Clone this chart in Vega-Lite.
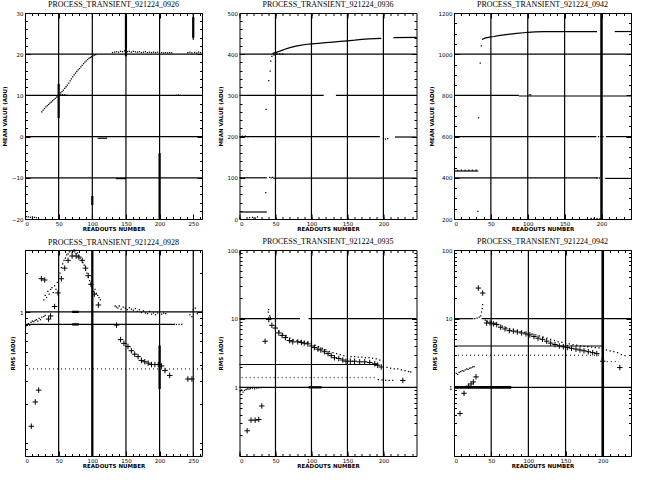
{
 "$schema": "https://vega.github.io/schema/vega-lite/v6.json",
 "padding": {"left": 1, "top": 0, "right": 0, "bottom": 0},
 "background": "white",
 "columns": 3,
 "spacing": {"row": 31, "column": 37.5},
 "bounds": "flush",
 "config": {
  "view": {"stroke": "black", "strokeWidth": 1},
  "axis": {"domain": false, "grid": false, "labelFont": "DejaVu Sans", "labelFontSize": 5.5, "labelColor": "black", "tickColor": "black", "tickWidth": 1, "titleFont": "DejaVu Sans", "titleFontSize": 5.5, "titleFontWeight": "bold", "titleColor": "black"},
  "title": {"font": "Liberation Sans Narrow", "fontSize": 8, "fontWeight": "normal", "color": "black", "offset": 2, "anchor": "middle"}
 },
 "datasets": {
  "p1": [
   {"t":"seg","x":0,"x2":263,"y":20,"y2":20},{"t":"seg","x":0,"x2":263,"y":10,"y2":10},{"t":"seg","x":0,"x2":263,"y":0,"y2":0},{"t":"seg","x":0,"x2":263,"y":-10,"y2":-10},
   {"t":"seg","x":50,"x2":50,"y":-20,"y2":30},{"t":"seg","x":100,"x2":100,"y":-20,"y2":30},{"t":"seg","x":150,"x2":150,"y":-20,"y2":30},{"t":"seg","x":200,"x2":200,"y":-20,"y2":30},{"t":"seg","x":250,"x2":250,"y":23.5,"y2":30},
   {"t":"thick","x":150,"x2":150,"y":19.5,"y2":30},{"t":"thick","x":50,"x2":50,"y":4.5,"y2":12.8},{"t":"thick","x":200,"x2":200,"y":-20,"y2":-4},{"t":"thick","x":100,"x2":100,"y":-16.6,"y2":-14.4},{"t":"thick","x":250,"x2":250,"y":24,"y2":29},
   {"t":"seg","x":108,"x2":122,"y":-0.4,"y2":-0.4},{"t":"seg","x":135,"x2":150,"y":-10.2,"y2":-10.2},
   {"t":"dot","x":25,"y":6.0},{"t":"dot","x":27,"y":6.4},{"t":"dot","x":29,"y":6.8},{"t":"dot","x":31,"y":7.2},{"t":"dot","x":33,"y":7.5},{"t":"dot","x":35,"y":7.8},{"t":"dot","x":37,"y":8.1},{"t":"dot","x":39,"y":8.4},{"t":"dot","x":41,"y":8.7},{"t":"dot","x":43,"y":9.0},{"t":"dot","x":45,"y":9.3},{"t":"dot","x":47,"y":9.6},{"t":"dot","x":49,"y":9.9},{"t":"dot","x":51,"y":10.2},{"t":"dot","x":53,"y":10.6},{"t":"dot","x":55,"y":10.9},{"t":"dot","x":57,"y":11.3},{"t":"dot","x":59,"y":11.7},{"t":"dot","x":61,"y":12.1},{"t":"dot","x":63,"y":12.5},{"t":"dot","x":65,"y":13.0},{"t":"dot","x":67,"y":13.5},{"t":"dot","x":69,"y":14.0},{"t":"dot","x":71,"y":14.5},{"t":"dot","x":73,"y":15.0},{"t":"dot","x":75,"y":15.4},{"t":"dot","x":77,"y":15.8},{"t":"dot","x":79,"y":16.2},{"t":"dot","x":81,"y":16.5},{"t":"dot","x":83,"y":16.9},{"t":"dot","x":85,"y":17.3},{"t":"dot","x":87,"y":17.7},{"t":"dot","x":89,"y":18.1},{"t":"dot","x":91,"y":18.4},{"t":"dot","x":93,"y":18.7},{"t":"dot","x":95,"y":19.0},{"t":"dot","x":97,"y":19.2},{"t":"dot","x":99,"y":19.4},{"t":"dot","x":101,"y":19.6},{"t":"dot","x":103,"y":19.8},{"t":"dot","x":105,"y":19.9},
   {"t":"dot","x":130,"y":20.4},{"t":"dot","x":133,"y":20.5},{"t":"dot","x":136,"y":20.6},{"t":"dot","x":139,"y":20.5},{"t":"dot","x":142,"y":20.7},{"t":"dot","x":145,"y":20.6},{"t":"dot","x":148,"y":20.8},{"t":"dot","x":152,"y":20.6},{"t":"dot","x":155,"y":20.7},{"t":"dot","x":158,"y":20.5},{"t":"dot","x":161,"y":20.7},{"t":"dot","x":164,"y":20.6},{"t":"dot","x":167,"y":20.5},{"t":"dot","x":170,"y":20.6},{"t":"dot","x":173,"y":20.4},{"t":"dot","x":176,"y":20.5},{"t":"dot","x":179,"y":20.6},{"t":"dot","x":182,"y":20.4},{"t":"dot","x":185,"y":20.5},{"t":"dot","x":188,"y":20.4},{"t":"dot","x":191,"y":20.5},{"t":"dot","x":194,"y":20.4},{"t":"dot","x":197,"y":20.5},{"t":"dot","x":203,"y":20.4},{"t":"dot","x":206,"y":20.3},{"t":"dot","x":209,"y":20.4},{"t":"dot","x":212,"y":20.3},{"t":"dot","x":215,"y":20.4},{"t":"dot","x":218,"y":20.3},{"t":"dot","x":242,"y":20.4},{"t":"dot","x":245,"y":20.5},{"t":"dot","x":248,"y":20.3},{"t":"dot","x":252,"y":20.4},{"t":"dot","x":255,"y":20.3},{"t":"dot","x":258,"y":20.5},{"t":"dot","x":261,"y":20.4},
   {"t":"dot","x":53,"y":10.1},{"t":"dot","x":56,"y":10.2},{"t":"dot","x":59,"y":10.1},{"t":"dot","x":62,"y":10.0},{"t":"dot","x":225,"y":10.0},{"t":"dot","x":228,"y":10.1},{"t":"dot","x":231,"y":10.0},
   {"t":"dot","x":2,"y":-19.4},{"t":"dot","x":5,"y":-19.5},{"t":"dot","x":8,"y":-19.6},{"t":"dot","x":11,"y":-19.5},{"t":"dot","x":14,"y":-19.6},{"t":"dot","x":17,"y":-19.7}
  ],
  "p2": [
   {"t":"seg","x":0,"x2":246,"y":400,"y2":400},{"t":"seg","x":0,"x2":117,"y":300,"y2":300},{"t":"seg","x":134,"x2":246,"y":300,"y2":300},{"t":"seg","x":0,"x2":195,"y":200,"y2":200},{"t":"seg","x":216,"x2":246,"y":199,"y2":199},{"t":"seg","x":0,"x2":38,"y":100,"y2":100},{"t":"seg","x":47,"x2":246,"y":99,"y2":99},{"t":"seg","x":0,"x2":38,"y":17,"y2":17},
   {"t":"seg","x":50,"x2":50,"y":0,"y2":500},{"t":"seg","x":100,"x2":100,"y":0,"y2":500},{"t":"seg","x":150,"x2":150,"y":0,"y2":500},{"t":"seg","x":200,"x2":200,"y":0,"y2":500},
   {"t":"ln","g":1,"x":46,"y":402},{"t":"ln","g":1,"x":50,"y":404},{"t":"ln","g":1,"x":56,"y":407.5},{"t":"ln","g":1,"x":63,"y":412},{"t":"ln","g":1,"x":70,"y":416},{"t":"ln","g":1,"x":77,"y":419},{"t":"ln","g":1,"x":84,"y":421.5},{"t":"ln","g":1,"x":92,"y":423.5},{"t":"ln","g":1,"x":100,"y":425},{"t":"ln","g":1,"x":110,"y":426.5},{"t":"ln","g":1,"x":120,"y":428},{"t":"ln","g":1,"x":130,"y":429.5},{"t":"ln","g":1,"x":140,"y":431},{"t":"ln","g":1,"x":150,"y":432.5},{"t":"ln","g":1,"x":160,"y":434},{"t":"ln","g":1,"x":170,"y":436},{"t":"ln","g":1,"x":180,"y":437},{"t":"ln","g":1,"x":197,"y":438.5},
   {"t":"ln","g":2,"x":214,"y":440},{"t":"ln","g":2,"x":246,"y":441},
   {"t":"dot","x":36.5,"y":64},{"t":"dot","x":37,"y":266},{"t":"dot","x":40.7,"y":336},{"t":"dot","x":42.6,"y":359},{"t":"dot","x":43.5,"y":383},{"t":"dot","x":45,"y":395},{"t":"dot","x":48,"y":398},{"t":"dot","x":52,"y":401},{"t":"dot","x":56,"y":401},{"t":"dot","x":60,"y":400},
   {"t":"dot","x":42,"y":101},{"t":"dot","x":44,"y":100},{"t":"dot","x":46,"y":101},
   {"t":"dot","x":200,"y":196},{"t":"dot","x":203,"y":194},{"t":"dot","x":206,"y":195},
   {"t":"dot","x":14,"y":3},{"t":"dot","x":18,"y":4},{"t":"dot","x":22,"y":2},{"t":"dot","x":25,"y":5},{"t":"dot","x":4,"y":201},{"t":"dot","x":8,"y":201},{"t":"dot","x":12,"y":200}
  ],
  "p3": [
   {"t":"seg","x":0,"x2":240,"y":1000,"y2":1000},{"t":"seg","x":0,"x2":88,"y":800,"y2":800},{"t":"seg","x":88,"x2":240,"y":797,"y2":797},{"t":"seg","x":0,"x2":193,"y":600,"y2":600},{"t":"seg","x":206,"x2":240,"y":600,"y2":600},{"t":"seg","x":0,"x2":195,"y":400,"y2":400},{"t":"seg","x":205,"x2":240,"y":397,"y2":397},{"t":"seg","x":0,"x2":33,"y":433,"y2":433},
   {"t":"seg","x":50,"x2":50,"y":200,"y2":1200},{"t":"seg","x":100,"x2":100,"y":200,"y2":1200},{"t":"seg","x":150,"x2":150,"y":200,"y2":1200},
   {"t":"thick","x":200,"x2":200,"y":200,"y2":1200},
   {"t":"ln","g":1,"x":38,"y":1071},{"t":"ln","g":1,"x":42,"y":1078},{"t":"ln","g":1,"x":48,"y":1083},{"t":"ln","g":1,"x":54,"y":1086},{"t":"ln","g":1,"x":60,"y":1090},{"t":"ln","g":1,"x":68,"y":1094},{"t":"ln","g":1,"x":76,"y":1097},{"t":"ln","g":1,"x":85,"y":1101},{"t":"ln","g":1,"x":94,"y":1104},{"t":"ln","g":1,"x":100,"y":1106},{"t":"ln","g":1,"x":110,"y":1108},{"t":"ln","g":1,"x":122,"y":1110},{"t":"ln","g":1,"x":194,"y":1110},
   {"t":"ln","g":2,"x":218,"y":1110},{"t":"ln","g":2,"x":240,"y":1110},
   {"t":"dot","x":37,"y":1040},{"t":"dot","x":35.6,"y":957},{"t":"dot","x":33.3,"y":691},{"t":"dot","x":32.4,"y":237},
   {"t":"dot","x":196,"y":600},{"t":"dot","x":199,"y":601},{"t":"dot","x":202,"y":600},{"t":"dot","x":194,"y":398},{"t":"dot","x":197,"y":399},
   {"t":"dot","x":186,"y":203},{"t":"dot","x":190,"y":203},{"t":"dot","x":194,"y":202},{"t":"dot","x":198,"y":202},
   {"t":"dot","x":5,"y":436},{"t":"dot","x":10,"y":437},{"t":"dot","x":15,"y":436},{"t":"dot","x":20,"y":437},{"t":"dot","x":25,"y":437},{"t":"dot","x":30,"y":437},{"t":"dot","x":102,"y":803},{"t":"dot","x":104,"y":803}
  ],
  "p4": [
   {"t":"seg","x":0,"x2":263,"y":1.01,"y2":1.01},{"t":"seg","x":0,"x2":223,"y":0.81,"y2":0.81},
   {"t":"seg","x":50,"x2":50,"y":0.08,"y2":3},{"t":"seg","x":150,"x2":150,"y":0.08,"y2":3},{"t":"seg","x":200,"x2":200,"y":0.08,"y2":3},{"t":"seg","x":250,"x2":250,"y":0.08,"y2":3},
   {"t":"thick","x":100,"x2":100,"y":0.08,"y2":3},{"t":"thick","x":200,"x2":200,"y":0.26,"y2":0.56},{"t":"thick","x":70,"x2":80,"y":1.01,"y2":1.01},{"t":"thick","x":70,"x2":80,"y":0.81,"y2":0.81},
   {"t":"dash","x":0,"x2":263,"y":0.37,"y2":0.37},
   {"t":"dot","x":1,"y":0.78},{"t":"dot","x":3,"y":0.8},{"t":"dot","x":5,"y":0.82},{"t":"dot","x":7,"y":0.8},{"t":"dot","x":9,"y":0.84},{"t":"dot","x":11,"y":0.86},{"t":"dot","x":13,"y":0.85},{"t":"dot","x":15,"y":0.87},{"t":"dot","x":17,"y":0.88},{"t":"dot","x":19,"y":0.86},{"t":"dot","x":21,"y":0.9},{"t":"dot","x":23,"y":0.88},{"t":"dot","x":25,"y":0.92},{"t":"dot","x":28,"y":0.93},{"t":"dot","x":30,"y":0.95},
   {"t":"dot","x":28,"y":1.25},{"t":"dot","x":30,"y":1.35},{"t":"dot","x":32,"y":1.3},{"t":"dot","x":34,"y":1.45},{"t":"dot","x":36,"y":1.38},{"t":"dot","x":38,"y":1.5},{"t":"dot","x":40,"y":1.55},{"t":"dot","x":42,"y":1.42},{"t":"dot","x":44,"y":1.6},{"t":"dot","x":46,"y":1.5},{"t":"dot","x":48,"y":1.7},{"t":"dot","x":50,"y":1.9},{"t":"dot","x":52,"y":2.0},{"t":"dot","x":54,"y":2.2},{"t":"dot","x":56,"y":2.35},{"t":"dot","x":58,"y":2.5},{"t":"dot","x":60,"y":2.6},{"t":"dot","x":62,"y":2.75},{"t":"dot","x":64,"y":2.8},{"t":"dot","x":66,"y":2.9},{"t":"dot","x":68,"y":2.95},{"t":"dot","x":70,"y":2.85},{"t":"dot","x":72,"y":2.95},{"t":"dot","x":74,"y":2.9},{"t":"dot","x":76,"y":2.8},{"t":"dot","x":78,"y":2.85},{"t":"dot","x":80,"y":2.7},{"t":"dot","x":82,"y":2.6},{"t":"dot","x":84,"y":2.5},{"t":"dot","x":86,"y":2.4},{"t":"dot","x":88,"y":2.3},{"t":"dot","x":90,"y":2.1},{"t":"dot","x":92,"y":2.0},{"t":"dot","x":94,"y":1.85},{"t":"dot","x":96,"y":1.75},{"t":"dot","x":98,"y":1.65},{"t":"dot","x":102,"y":1.45},{"t":"dot","x":104,"y":1.5},{"t":"dot","x":106,"y":1.4},{"t":"dot","x":108,"y":1.35},{"t":"dot","x":110,"y":1.3},{"t":"dot","x":112,"y":1.25},
   {"t":"dot","x":134,"y":1.12},{"t":"dot","x":136,"y":1.1},{"t":"dot","x":138,"y":1.08},{"t":"dot","x":140,"y":1.12},{"t":"dot","x":143,"y":1.06},{"t":"dot","x":146,"y":1.1},{"t":"dot","x":149,"y":1.08},{"t":"dot","x":152,"y":1.05},{"t":"dot","x":155,"y":1.09},{"t":"dot","x":158,"y":1.06},{"t":"dot","x":161,"y":1.04},{"t":"dot","x":164,"y":1.07},{"t":"dot","x":167,"y":1.02},{"t":"dot","x":170,"y":1.05},{"t":"dot","x":173,"y":1.0},{"t":"dot","x":176,"y":1.03},{"t":"dot","x":179,"y":0.99},{"t":"dot","x":182,"y":0.98},{"t":"dot","x":185,"y":1.02},{"t":"dot","x":188,"y":0.97},{"t":"dot","x":191,"y":0.99},{"t":"dot","x":194,"y":0.96},{"t":"dot","x":197,"y":0.99},{"t":"dot","x":203,"y":0.97},{"t":"dot","x":206,"y":0.99},{"t":"dot","x":209,"y":0.98},{"t":"dot","x":245,"y":0.96},{"t":"dot","x":248,"y":0.93},{"t":"dot","x":250,"y":1.05},{"t":"dot","x":253,"y":1.08},{"t":"dot","x":256,"y":0.98},{"t":"dot","x":225,"y":0.81},{"t":"dot","x":229,"y":0.81},{"t":"dot","x":233,"y":0.81},{"t":"dot","x":73,"y":3.0},{"t":"dot","x":76,"y":2.98},
   {"t":"plus","x":9.4,"y":0.135},{"t":"plus","x":15.3,"y":0.207},{"t":"plus","x":20.3,"y":0.255},{"t":"plus","x":24.3,"y":1.81},{"t":"plus","x":29.3,"y":1.77},{"t":"plus","x":35,"y":0.89},{"t":"plus","x":38,"y":0.94},{"t":"plus","x":44,"y":1.11},{"t":"plus","x":49,"y":1.41},{"t":"plus","x":54,"y":1.81},{"t":"plus","x":59,"y":2.18},{"t":"plus","x":64,"y":2.5},{"t":"plus","x":70,"y":2.7},{"t":"plus","x":76,"y":2.7},{"t":"plus","x":80,"y":2.65},{"t":"plus","x":85,"y":2.5},{"t":"plus","x":90,"y":2.18},{"t":"plus","x":94,"y":1.91},{"t":"plus","x":98,"y":1.64},{"t":"plus","x":103,"y":1.38},{"t":"plus","x":109,"y":1.14},{"t":"plus","x":136,"y":0.8},{"t":"plus","x":142,"y":0.62},{"t":"plus","x":147,"y":0.58},{"t":"plus","x":153,"y":0.55},{"t":"plus","x":158,"y":0.51},{"t":"plus","x":163,"y":0.48},{"t":"plus","x":168,"y":0.46},{"t":"plus","x":173,"y":0.43},{"t":"plus","x":178,"y":0.42},{"t":"plus","x":183,"y":0.41},{"t":"plus","x":188,"y":0.4},{"t":"plus","x":193,"y":0.4},{"t":"plus","x":198,"y":0.4},{"t":"plus","x":203,"y":0.39},{"t":"plus","x":208,"y":0.36},{"t":"plus","x":215,"y":0.33},{"t":"plus","x":242,"y":0.31},{"t":"plus","x":248,"y":0.31}
  ],
  "p5": [
   {"t":"seg","x":0,"x2":84,"y":10,"y2":10},{"t":"seg","x":96,"x2":246,"y":10,"y2":10},{"t":"seg","x":0,"x2":246,"y":1,"y2":1},{"t":"seg","x":0,"x2":193,"y":2.15,"y2":2.15},
   {"t":"seg","x":50,"x2":50,"y":0.1,"y2":100},{"t":"seg","x":100,"x2":100,"y":0.1,"y2":100},{"t":"seg","x":150,"x2":150,"y":0.1,"y2":100},{"t":"seg","x":200,"x2":200,"y":0.1,"y2":100},
   {"t":"thick","x":96,"x2":114,"y":1,"y2":1},
   {"t":"dash","x":3,"x2":188,"y":1.38,"y2":1.38},
   {"t":"dot","x":40,"y":12.5},{"t":"dot","x":40.5,"y":13.5},{"t":"dot","x":42,"y":11},{"t":"dot","x":43,"y":10.5},
   {"t":"dot","x":50,"y":7.5},{"t":"dot","x":55,"y":6.6},{"t":"dot","x":60,"y":6.0},{"t":"dot","x":65,"y":5.6},{"t":"dot","x":70,"y":5.2},{"t":"dot","x":75,"y":4.9},{"t":"dot","x":80,"y":4.8},{"t":"dot","x":85,"y":4.7},{"t":"dot","x":90,"y":4.6},{"t":"dot","x":95,"y":4.5},{"t":"dot","x":100,"y":4.3},{"t":"dot","x":105,"y":4.1},{"t":"dot","x":110,"y":3.9},{"t":"dot","x":115,"y":3.7},{"t":"dot","x":120,"y":3.5},{"t":"dot","x":125,"y":3.3},{"t":"dot","x":130,"y":3.2},{"t":"dot","x":135,"y":3.1},{"t":"dot","x":140,"y":3.0},{"t":"dot","x":145,"y":2.9},{"t":"dot","x":150,"y":2.85},{"t":"dot","x":155,"y":2.8},{"t":"dot","x":160,"y":2.8},{"t":"dot","x":165,"y":2.75},{"t":"dot","x":170,"y":2.75},{"t":"dot","x":175,"y":2.7},{"t":"dot","x":180,"y":2.7},{"t":"dot","x":185,"y":2.65},{"t":"dot","x":190,"y":2.6},{"t":"dot","x":195,"y":2.5},{"t":"dot","x":200,"y":2.4},
   {"t":"dot","x":205,"y":1.95},{"t":"dot","x":210,"y":1.9},{"t":"dot","x":215,"y":1.85},{"t":"dot","x":220,"y":1.85},{"t":"dot","x":225,"y":1.8},{"t":"dot","x":230,"y":1.75},{"t":"dot","x":235,"y":1.7},{"t":"dot","x":238,"y":1.68},
   {"t":"dot","x":1,"y":0.88},{"t":"dot","x":3,"y":0.92},{"t":"dot","x":5,"y":0.85},{"t":"dot","x":7,"y":0.9},{"t":"dot","x":9,"y":0.93},{"t":"dot","x":11,"y":0.95},{"t":"dot","x":13,"y":0.94},{"t":"dot","x":15,"y":0.96},{"t":"dot","x":18,"y":0.97},{"t":"dot","x":21,"y":0.95},{"t":"dot","x":24,"y":0.97},{"t":"dot","x":27,"y":0.98},{"t":"dot","x":30,"y":0.99},
   {"t":"dot","x":193,"y":1.3},{"t":"dot","x":198,"y":1.28},{"t":"dot","x":203,"y":1.27},{"t":"dot","x":208,"y":1.26},{"t":"dot","x":213,"y":1.26},
   {"t":"plus","x":10.6,"y":0.233},{"t":"plus","x":16,"y":0.333},{"t":"plus","x":21.7,"y":0.333},{"t":"plus","x":26.8,"y":0.34},{"t":"plus","x":31,"y":0.536},{"t":"plus","x":35.6,"y":4.69},{"t":"plus","x":40.7,"y":9.7},{"t":"plus","x":45,"y":8.0},{"t":"plus","x":49.8,"y":7.3},{"t":"plus","x":54.6,"y":6.2},{"t":"plus","x":59.2,"y":5.7},{"t":"plus","x":63.8,"y":5.3},{"t":"plus","x":69.4,"y":4.8},{"t":"plus","x":74,"y":4.6},{"t":"plus","x":81,"y":4.6},{"t":"plus","x":86,"y":4.5},{"t":"plus","x":90,"y":4.4},{"t":"plus","x":95,"y":4.3},{"t":"plus","x":100,"y":4.0},{"t":"plus","x":104,"y":3.8},{"t":"plus","x":109,"y":3.6},{"t":"plus","x":113,"y":3.5},{"t":"plus","x":118,"y":3.3},{"t":"plus","x":123,"y":3.1},{"t":"plus","x":127.5,"y":2.9},{"t":"plus","x":132,"y":2.7},{"t":"plus","x":138,"y":2.63},{"t":"plus","x":143.5,"y":2.5},{"t":"plus","x":148,"y":2.4},{"t":"plus","x":154,"y":2.4},{"t":"plus","x":160,"y":2.4},{"t":"plus","x":167,"y":2.35},{"t":"plus","x":174,"y":2.35},{"t":"plus","x":181,"y":2.3},{"t":"plus","x":188,"y":2.2},{"t":"plus","x":192,"y":2.1},{"t":"plus","x":197,"y":1.98},{"t":"plus","x":227,"y":1.26}
  ],
  "p6": [
   {"t":"seg","x":0,"x2":26,"y":10,"y2":10},{"t":"seg","x":37,"x2":238,"y":10,"y2":10},{"t":"seg","x":0,"x2":200,"y":4,"y2":4},{"t":"seg","x":0,"x2":238,"y":1,"y2":1},
   {"t":"seg","x":50,"x2":50,"y":0.1,"y2":100},{"t":"seg","x":100,"x2":100,"y":0.1,"y2":100},{"t":"seg","x":150,"x2":150,"y":0.1,"y2":100},
   {"t":"thick","x":200,"x2":200,"y":0.1,"y2":100},{"t":"thick","x":0,"x2":77,"y":1,"y2":1},
   {"t":"dash","x":0,"x2":200,"y":2.94,"y2":2.94},{"t":"dash","x":200,"x2":222,"y":2.37,"y2":2.37},
   {"t":"dot","x":3,"y":1.6},{"t":"dot","x":5,"y":1.55},{"t":"dot","x":7,"y":1.65},{"t":"dot","x":9,"y":1.7},{"t":"dot","x":11,"y":1.75},{"t":"dot","x":13,"y":1.72},{"t":"dot","x":15,"y":1.8},{"t":"dot","x":17,"y":1.85},{"t":"dot","x":19,"y":1.82},{"t":"dot","x":21,"y":1.9},{"t":"dot","x":23,"y":1.92},{"t":"dot","x":25,"y":1.98},{"t":"dot","x":27,"y":2.0},
   {"t":"dot","x":28,"y":10},{"t":"dot","x":31,"y":10.2},{"t":"dot","x":34,"y":10.5},{"t":"dot","x":36,"y":11},{"t":"dot","x":37,"y":12.5},{"t":"dot","x":38,"y":14},{"t":"dot","x":38.5,"y":16},
   {"t":"dot","x":42,"y":9.5},{"t":"dot","x":45,"y":9.2},{"t":"dot","x":50,"y":8.9},{"t":"dot","x":55,"y":8.6},{"t":"dot","x":60,"y":8.2},{"t":"dot","x":65,"y":7.8},{"t":"dot","x":70,"y":7.4},{"t":"dot","x":75,"y":7.1},{"t":"dot","x":80,"y":6.9},{"t":"dot","x":85,"y":6.7},{"t":"dot","x":90,"y":6.5},{"t":"dot","x":95,"y":6.3},{"t":"dot","x":100,"y":6.15},{"t":"dot","x":105,"y":6.0},{"t":"dot","x":110,"y":5.8},{"t":"dot","x":115,"y":5.6},{"t":"dot","x":120,"y":5.4},{"t":"dot","x":125,"y":5.2},{"t":"dot","x":130,"y":5.0},{"t":"dot","x":135,"y":4.8},{"t":"dot","x":140,"y":4.6},{"t":"dot","x":145,"y":4.5},{"t":"dot","x":150,"y":4.4},{"t":"dot","x":155,"y":4.3},{"t":"dot","x":160,"y":4.2},{"t":"dot","x":165,"y":4.1},{"t":"dot","x":170,"y":4.0},{"t":"dot","x":175,"y":3.95},{"t":"dot","x":180,"y":3.9},{"t":"dot","x":185,"y":3.85},{"t":"dot","x":190,"y":3.8},{"t":"dot","x":195,"y":3.75},{"t":"dot","x":205,"y":3.5},{"t":"dot","x":210,"y":3.4},{"t":"dot","x":215,"y":3.3},{"t":"dot","x":220,"y":3.2},{"t":"dot","x":225,"y":3.0},{"t":"dot","x":230,"y":2.9},
   {"t":"dot","x":199,"y":2.6},{"t":"dot","x":201,"y":2.5},
   {"t":"plus","x":8.1,"y":0.416},{"t":"plus","x":13.5,"y":0.82},{"t":"plus","x":19.3,"y":1.04},{"t":"plus","x":22.9,"y":1.12},{"t":"plus","x":26,"y":1.2},{"t":"plus","x":29.6,"y":1.42},{"t":"plus","x":32.7,"y":27.9},{"t":"plus","x":38.6,"y":23.6},{"t":"plus","x":43.9,"y":8.65},{"t":"plus","x":48.4,"y":8.65},{"t":"plus","x":52.9,"y":8.4},{"t":"plus","x":57.4,"y":8.2},{"t":"plus","x":62.8,"y":7.5},{"t":"plus","x":68.6,"y":7.1},{"t":"plus","x":74.4,"y":6.7},{"t":"plus","x":79.8,"y":6.6},{"t":"plus","x":85.2,"y":6.4},{"t":"plus","x":91,"y":6.2},{"t":"plus","x":96.8,"y":6.0},{"t":"plus","x":102,"y":5.8},{"t":"plus","x":107.5,"y":5.5},{"t":"plus","x":113,"y":5.2},{"t":"plus","x":119,"y":5.0},{"t":"plus","x":124.6,"y":4.7},{"t":"plus","x":130,"y":4.4},{"t":"plus","x":135.8,"y":4.2},{"t":"plus","x":141.6,"y":4.0},{"t":"plus","x":147,"y":3.9},{"t":"plus","x":152.4,"y":3.8},{"t":"plus","x":158,"y":3.7},{"t":"plus","x":164,"y":3.6},{"t":"plus","x":169.4,"y":3.5},{"t":"plus","x":174.8,"y":3.4},{"t":"plus","x":180.6,"y":3.3},{"t":"plus","x":186.5,"y":3.2},{"t":"plus","x":192,"y":3.1},{"t":"plus","x":200,"y":2.4},{"t":"plus","x":223,"y":1.94}
  ]
 },
 "concat": [
  {
   "title": "PROCESS_TRANSIENT_921224_0926",
   "width": 177, "height": 206,
   "data": {"name": "p1"},
   "layer": [
    {"transform": [{"filter": "datum.t == 'seg'"}], "mark": {"type": "rule", "color": "black", "strokeWidth": 1.2},
     "encoding": {
      "x": {"field": "x", "type": "quantitative", "scale": {"domain": [0, 263], "nice": false, "zero": false}, "axis": {"orient": "bottom", "values": [0,50,100,150,200,250], "format": "d", "tickSize": -5, "labelPadding": 7, "title": "READOUTS NUMBER", "titlePadding": 0}},
      "x2": {"field": "x2"},
      "y": {"field": "y", "type": "quantitative", "scale": {"domain": [-20, 30], "nice": false, "zero": false}, "axis": {"orient": "left", "values": [-20,-10,0,10,20,30], "format": "d", "tickSize": -5, "labelPadding": 7, "title": "MEAN VALUE (ADU)", "titlePadding": 4}},
      "y2": {"field": "y2"}}},
    {"transform": [{"filter": "datum.t == 'thick'"}], "mark": {"type": "rule", "color": "black", "strokeWidth": 2.2},
     "encoding": {
      "x": {"field": "x", "type": "quantitative", "axis": {"orient": "bottom", "values": [0,10,20,30,40,50,60,70,80,90,100,110,120,130,140,150,160,170,180,190,200,210,220,230,240,250,260], "tickSize": -2.5, "labels": false, "title": null}},
      "x2": {"field": "x2"},
      "y": {"field": "y", "type": "quantitative", "axis": {"orient": "left", "values": [-20,-18,-16,-14,-12,-10,-8,-6,-4,-2,0,2,4,6,8,10,12,14,16,18,20,22,24,26,28,30], "tickSize": -2.5, "labels": false, "title": null}},
      "y2": {"field": "y2"}}},
    {"transform": [{"filter": "datum.t == 'dash'"}], "mark": {"type": "rule", "color": "black", "strokeWidth": 1, "strokeDash": [1, 3]},
     "encoding": {
      "x": {"field": "x", "type": "quantitative", "axis": {"orient": "top", "values": [0,50,100,150,200,250], "tickSize": -5, "labels": false, "title": null}},
      "x2": {"field": "x2"},
      "y": {"field": "y", "type": "quantitative", "axis": {"orient": "right", "values": [-20,-10,0,10,20,30], "tickSize": -5, "labels": false, "title": null}},
      "y2": {"field": "y2"}}},
    {"transform": [{"filter": "datum.t == 'dot'"}], "mark": {"type": "square", "color": "black", "size": 1.6, "opacity": 1},
     "encoding": {
      "x": {"field": "x", "type": "quantitative", "axis": {"orient": "top", "values": [0,10,20,30,40,50,60,70,80,90,100,110,120,130,140,150,160,170,180,190,200,210,220,230,240,250,260], "tickSize": -2.5, "labels": false, "title": null}},
      "y": {"field": "y", "type": "quantitative", "axis": {"orient": "right", "values": [-20,-18,-16,-14,-12,-10,-8,-6,-4,-2,0,2,4,6,8,10,12,14,16,18,20,22,24,26,28,30], "tickSize": -2.5, "labels": false, "title": null}}}}
   ],
   "resolve": {"axis": {"x": "independent", "y": "independent"}}
  },
  {
   "title": "PROCESS_TRANSIENT_921224_0936",
   "width": 177, "height": 206,
   "data": {"name": "p2"},
   "layer": [
    {"transform": [{"filter": "datum.t == 'seg'"}], "mark": {"type": "rule", "color": "black", "strokeWidth": 1.2},
     "encoding": {
      "x": {"field": "x", "type": "quantitative", "scale": {"domain": [0, 246], "nice": false, "zero": false}, "axis": {"orient": "bottom", "values": [0,50,100,150,200], "format": "d", "tickSize": -5, "labelPadding": 7, "title": "READOUTS NUMBER", "titlePadding": 0}},
      "x2": {"field": "x2"},
      "y": {"field": "y", "type": "quantitative", "scale": {"domain": [0, 500], "nice": false, "zero": false}, "axis": {"orient": "left", "values": [0,100,200,300,400,500], "format": "d", "tickSize": -5, "labelPadding": 7, "title": "MEAN VALUE (ADU)", "titlePadding": 4}},
      "y2": {"field": "y2"}}},
    {"transform": [{"filter": "datum.t == 'thick'"}], "mark": {"type": "rule", "color": "black", "strokeWidth": 2.5},
     "encoding": {
      "x": {"field": "x", "type": "quantitative", "axis": {"orient": "bottom", "values": [0,10,20,30,40,50,60,70,80,90,100,110,120,130,140,150,160,170,180,190,200,210,220,230,240], "tickSize": -2.5, "labels": false, "title": null}},
      "x2": {"field": "x2"},
      "y": {"field": "y", "type": "quantitative", "axis": {"orient": "left", "values": [0,20,40,60,80,100,120,140,160,180,200,220,240,260,280,300,320,340,360,380,400,420,440,460,480,500], "tickSize": -2.5, "labels": false, "title": null}},
      "y2": {"field": "y2"}}},
    {"transform": [{"filter": "datum.t == 'ln'"}], "mark": {"type": "line", "color": "black", "strokeWidth": 1.2},
     "encoding": {
      "x": {"field": "x", "type": "quantitative", "axis": {"orient": "top", "values": [0,50,100,150,200], "tickSize": -5, "labels": false, "title": null}},
      "y": {"field": "y", "type": "quantitative", "axis": {"orient": "right", "values": [0,100,200,300,400,500], "tickSize": -5, "labels": false, "title": null}},
      "detail": {"field": "g"}}},
    {"transform": [{"filter": "datum.t == 'dot'"}], "mark": {"type": "square", "color": "black", "size": 1.6, "opacity": 1},
     "encoding": {
      "x": {"field": "x", "type": "quantitative", "axis": {"orient": "top", "values": [0,10,20,30,40,50,60,70,80,90,100,110,120,130,140,150,160,170,180,190,200,210,220,230,240], "tickSize": -2.5, "labels": false, "title": null}},
      "y": {"field": "y", "type": "quantitative", "axis": {"orient": "right", "values": [0,20,40,60,80,100,120,140,160,180,200,220,240,260,280,300,320,340,360,380,400,420,440,460,480,500], "tickSize": -2.5, "labels": false, "title": null}}}}
   ],
   "resolve": {"axis": {"x": "independent", "y": "independent"}}
  },
  {
   "title": "PROCESS_TRANSIENT_921224_0942",
   "width": 177, "height": 206,
   "data": {"name": "p3"},
   "layer": [
    {"transform": [{"filter": "datum.t == 'seg'"}], "mark": {"type": "rule", "color": "black", "strokeWidth": 1.2},
     "encoding": {
      "x": {"field": "x", "type": "quantitative", "scale": {"domain": [0, 240], "nice": false, "zero": false}, "axis": {"orient": "bottom", "values": [0,50,100,150,200], "format": "d", "tickSize": -5, "labelPadding": 7, "title": "READOUTS NUMBER", "titlePadding": 0}},
      "x2": {"field": "x2"},
      "y": {"field": "y", "type": "quantitative", "scale": {"domain": [200, 1200], "nice": false, "zero": false}, "axis": {"orient": "left", "values": [200,400,600,800,1000,1200], "format": "d", "tickSize": -5, "labelPadding": 7, "title": "MEAN VALUE (ADU)", "titlePadding": 4}},
      "y2": {"field": "y2"}}},
    {"transform": [{"filter": "datum.t == 'thick'"}], "mark": {"type": "rule", "color": "black", "strokeWidth": 2.5},
     "encoding": {
      "x": {"field": "x", "type": "quantitative", "axis": {"orient": "bottom", "values": [0,10,20,30,40,50,60,70,80,90,100,110,120,130,140,150,160,170,180,190,200,210,220,230,240], "tickSize": -2.5, "labels": false, "title": null}},
      "x2": {"field": "x2"},
      "y": {"field": "y", "type": "quantitative", "axis": {"orient": "left", "values": [200,250,300,350,400,450,500,550,600,650,700,750,800,850,900,950,1000,1050,1100,1150,1200], "tickSize": -2.5, "labels": false, "title": null}},
      "y2": {"field": "y2"}}},
    {"transform": [{"filter": "datum.t == 'ln'"}], "mark": {"type": "line", "color": "black", "strokeWidth": 1.2},
     "encoding": {
      "x": {"field": "x", "type": "quantitative", "axis": {"orient": "top", "values": [0,50,100,150,200], "tickSize": -5, "labels": false, "title": null}},
      "y": {"field": "y", "type": "quantitative", "axis": {"orient": "right", "values": [200,400,600,800,1000,1200], "tickSize": -5, "labels": false, "title": null}},
      "detail": {"field": "g"}}},
    {"transform": [{"filter": "datum.t == 'dot'"}], "mark": {"type": "square", "color": "black", "size": 1.6, "opacity": 1},
     "encoding": {
      "x": {"field": "x", "type": "quantitative", "axis": {"orient": "top", "values": [0,10,20,30,40,50,60,70,80,90,100,110,120,130,140,150,160,170,180,190,200,210,220,230,240], "tickSize": -2.5, "labels": false, "title": null}},
      "y": {"field": "y", "type": "quantitative", "axis": {"orient": "right", "values": [200,250,300,350,400,450,500,550,600,650,700,750,800,850,900,950,1000,1050,1100,1150,1200], "tickSize": -2.5, "labels": false, "title": null}}}}
   ],
   "resolve": {"axis": {"x": "independent", "y": "independent"}}
  },
  {
   "title": "PROCESS_TRANSIENT_921224_0928",
   "width": 177, "height": 206,
   "data": {"name": "p4"},
   "layer": [
    {"transform": [{"filter": "datum.t == 'seg'"}], "mark": {"type": "rule", "color": "black", "strokeWidth": 1.2},
     "encoding": {
      "x": {"field": "x", "type": "quantitative", "scale": {"domain": [0, 263], "nice": false, "zero": false}, "axis": {"orient": "bottom", "values": [0,50,100,150,200,250], "format": "d", "tickSize": -5, "labelPadding": 7, "title": "READOUTS NUMBER", "titlePadding": 0}},
      "x2": {"field": "x2"},
      "y": {"field": "y", "type": "quantitative", "scale": {"type": "log", "domain": [0.08, 3], "nice": false}, "axis": {"orient": "left", "values": [1], "format": "~g", "tickSize": -5, "labelPadding": 7, "title": "RMS (ADU)", "titlePadding": 4}},
      "y2": {"field": "y2"}}},
    {"transform": [{"filter": "datum.t == 'thick'"}], "mark": {"type": "rule", "color": "black", "strokeWidth": 2.3},
     "encoding": {
      "x": {"field": "x", "type": "quantitative", "axis": {"orient": "bottom", "values": [0,10,20,30,40,50,60,70,80,90,100,110,120,130,140,150,160,170,180,190,200,210,220,230,240,250,260], "tickSize": -2.5, "labels": false, "title": null}},
      "x2": {"field": "x2"},
      "y": {"field": "y", "type": "quantitative", "axis": {"orient": "left", "values": [0.09,0.1,0.2,0.3,0.4,0.5,0.6,0.7,0.8,0.9,2], "tickSize": -2.5, "labels": false, "title": null}},
      "y2": {"field": "y2"}}},
    {"transform": [{"filter": "datum.t == 'dash'"}], "mark": {"type": "rule", "color": "black", "strokeWidth": 1, "strokeDash": [1, 3]},
     "encoding": {
      "x": {"field": "x", "type": "quantitative", "axis": {"orient": "top", "values": [0,50,100,150,200,250], "tickSize": -5, "labels": false, "title": null}},
      "x2": {"field": "x2"},
      "y": {"field": "y", "type": "quantitative", "axis": {"orient": "right", "values": [1], "tickSize": -5, "labels": false, "title": null}},
      "y2": {"field": "y2"}}},
    {"transform": [{"filter": "datum.t == 'dot'"}], "mark": {"type": "square", "color": "black", "size": 1.6, "opacity": 1},
     "encoding": {
      "x": {"field": "x", "type": "quantitative", "axis": {"orient": "top", "values": [0,10,20,30,40,50,60,70,80,90,100,110,120,130,140,150,160,170,180,190,200,210,220,230,240,250,260], "tickSize": -2.5, "labels": false, "title": null}},
      "y": {"field": "y", "type": "quantitative", "axis": {"orient": "right", "values": [0.09,0.1,0.2,0.3,0.4,0.5,0.6,0.7,0.8,0.9,2], "tickSize": -2.5, "labels": false, "title": null}}}},
    {"transform": [{"filter": "datum.t == 'plus'"}], "mark": {"type": "point", "shape": "M-1,0H1M0,-1V1", "stroke": "black", "strokeWidth": 1, "size": 30, "filled": false, "opacity": 1},
     "encoding": {
      "x": {"field": "x", "type": "quantitative", "axis": null},
      "y": {"field": "y", "type": "quantitative", "axis": null}}}
   ],
   "resolve": {"axis": {"x": "independent", "y": "independent"}}
  },
  {
   "title": "PROCESS_TRANSIENT_921224_0935",
   "width": 177, "height": 206,
   "data": {"name": "p5"},
   "layer": [
    {"transform": [{"filter": "datum.t == 'seg'"}], "mark": {"type": "rule", "color": "black", "strokeWidth": 1.2},
     "encoding": {
      "x": {"field": "x", "type": "quantitative", "scale": {"domain": [0, 246], "nice": false, "zero": false}, "axis": {"orient": "bottom", "values": [0,50,100,150,200], "format": "d", "tickSize": -5, "labelPadding": 7, "title": "READOUTS NUMBER", "titlePadding": 0}},
      "x2": {"field": "x2"},
      "y": {"field": "y", "type": "quantitative", "scale": {"type": "log", "domain": [0.1, 100], "nice": false}, "axis": {"orient": "left", "values": [1,10,100], "format": "~g", "tickSize": -5, "labelPadding": 7, "title": "RMS (ADU)", "titlePadding": 4}},
      "y2": {"field": "y2"}}},
    {"transform": [{"filter": "datum.t == 'thick'"}], "mark": {"type": "rule", "color": "black", "strokeWidth": 2.3},
     "encoding": {
      "x": {"field": "x", "type": "quantitative", "axis": {"orient": "bottom", "values": [0,10,20,30,40,50,60,70,80,90,100,110,120,130,140,150,160,170,180,190,200,210,220,230,240], "tickSize": -2.5, "labels": false, "title": null}},
      "x2": {"field": "x2"},
      "y": {"field": "y", "type": "quantitative", "axis": {"orient": "left", "values": [0.2,0.3,0.4,0.5,0.6,0.7,0.8,0.9,2,3,4,5,6,7,8,9,20,30,40,50,60,70,80,90], "tickSize": -2.5, "labels": false, "title": null}},
      "y2": {"field": "y2"}}},
    {"transform": [{"filter": "datum.t == 'dash'"}], "mark": {"type": "rule", "color": "black", "strokeWidth": 1, "strokeDash": [1, 3]},
     "encoding": {
      "x": {"field": "x", "type": "quantitative", "axis": {"orient": "top", "values": [0,50,100,150,200], "tickSize": -5, "labels": false, "title": null}},
      "x2": {"field": "x2"},
      "y": {"field": "y", "type": "quantitative", "axis": {"orient": "right", "values": [1,10,100], "tickSize": -5, "labels": false, "title": null}},
      "y2": {"field": "y2"}}},
    {"transform": [{"filter": "datum.t == 'dot'"}], "mark": {"type": "square", "color": "black", "size": 1.6, "opacity": 1},
     "encoding": {
      "x": {"field": "x", "type": "quantitative", "axis": {"orient": "top", "values": [0,10,20,30,40,50,60,70,80,90,100,110,120,130,140,150,160,170,180,190,200,210,220,230,240], "tickSize": -2.5, "labels": false, "title": null}},
      "y": {"field": "y", "type": "quantitative", "axis": {"orient": "right", "values": [0.2,0.3,0.4,0.5,0.6,0.7,0.8,0.9,2,3,4,5,6,7,8,9,20,30,40,50,60,70,80,90], "tickSize": -2.5, "labels": false, "title": null}}}},
    {"transform": [{"filter": "datum.t == 'plus'"}], "mark": {"type": "point", "shape": "M-1,0H1M0,-1V1", "stroke": "black", "strokeWidth": 1, "size": 30, "filled": false, "opacity": 1},
     "encoding": {
      "x": {"field": "x", "type": "quantitative", "axis": null},
      "y": {"field": "y", "type": "quantitative", "axis": null}}}
   ],
   "resolve": {"axis": {"x": "independent", "y": "independent"}}
  },
  {
   "title": "PROCESS_TRANSIENT_921224_0942",
   "width": 177, "height": 206,
   "data": {"name": "p6"},
   "layer": [
    {"transform": [{"filter": "datum.t == 'seg'"}], "mark": {"type": "rule", "color": "black", "strokeWidth": 1.2},
     "encoding": {
      "x": {"field": "x", "type": "quantitative", "scale": {"domain": [0, 238], "nice": false, "zero": false}, "axis": {"orient": "bottom", "values": [0,50,100,150,200], "format": "d", "tickSize": -5, "labelPadding": 7, "title": "READOUTS NUMBER", "titlePadding": 0}},
      "x2": {"field": "x2"},
      "y": {"field": "y", "type": "quantitative", "scale": {"type": "log", "domain": [0.1, 100], "nice": false}, "axis": {"orient": "left", "values": [1,10,100], "format": "~g", "tickSize": -5, "labelPadding": 7, "title": "RMS (ADU)", "titlePadding": 4}},
      "y2": {"field": "y2"}}},
    {"transform": [{"filter": "datum.t == 'thick'"}], "mark": {"type": "rule", "color": "black", "strokeWidth": 2.6},
     "encoding": {
      "x": {"field": "x", "type": "quantitative", "axis": {"orient": "bottom", "values": [0,10,20,30,40,50,60,70,80,90,100,110,120,130,140,150,160,170,180,190,200,210,220,230], "tickSize": -2.5, "labels": false, "title": null}},
      "x2": {"field": "x2"},
      "y": {"field": "y", "type": "quantitative", "axis": {"orient": "left", "values": [0.2,0.3,0.4,0.5,0.6,0.7,0.8,0.9,2,3,4,5,6,7,8,9,20,30,40,50,60,70,80,90], "tickSize": -2.5, "labels": false, "title": null}},
      "y2": {"field": "y2"}}},
    {"transform": [{"filter": "datum.t == 'dash'"}], "mark": {"type": "rule", "color": "black", "strokeWidth": 1, "strokeDash": [1, 3]},
     "encoding": {
      "x": {"field": "x", "type": "quantitative", "axis": {"orient": "top", "values": [0,50,100,150,200], "tickSize": -5, "labels": false, "title": null}},
      "x2": {"field": "x2"},
      "y": {"field": "y", "type": "quantitative", "axis": {"orient": "right", "values": [1,10,100], "tickSize": -5, "labels": false, "title": null}},
      "y2": {"field": "y2"}}},
    {"transform": [{"filter": "datum.t == 'dot'"}], "mark": {"type": "square", "color": "black", "size": 1.6, "opacity": 1},
     "encoding": {
      "x": {"field": "x", "type": "quantitative", "axis": {"orient": "top", "values": [0,10,20,30,40,50,60,70,80,90,100,110,120,130,140,150,160,170,180,190,200,210,220,230], "tickSize": -2.5, "labels": false, "title": null}},
      "y": {"field": "y", "type": "quantitative", "axis": {"orient": "right", "values": [0.2,0.3,0.4,0.5,0.6,0.7,0.8,0.9,2,3,4,5,6,7,8,9,20,30,40,50,60,70,80,90], "tickSize": -2.5, "labels": false, "title": null}}}},
    {"transform": [{"filter": "datum.t == 'plus'"}], "mark": {"type": "point", "shape": "M-1,0H1M0,-1V1", "stroke": "black", "strokeWidth": 1, "size": 30, "filled": false, "opacity": 1},
     "encoding": {
      "x": {"field": "x", "type": "quantitative", "axis": null},
      "y": {"field": "y", "type": "quantitative", "axis": null}}}
   ],
   "resolve": {"axis": {"x": "independent", "y": "independent"}}
  }
 ]
}
